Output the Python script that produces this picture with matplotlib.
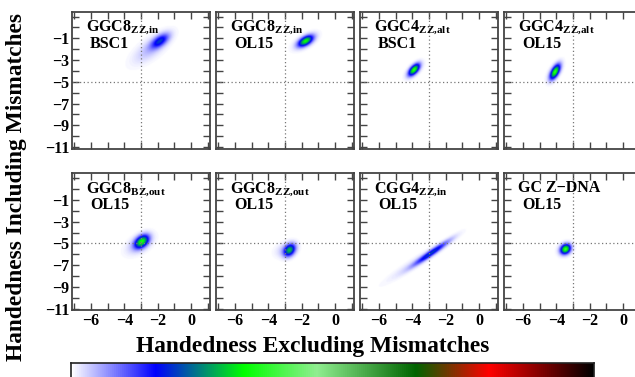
import numpy as np
import matplotlib
matplotlib.use("Agg")
import matplotlib.pyplot as plt
from matplotlib.colors import LinearSegmentedColormap
from matplotlib.ticker import MultipleLocator, FixedLocator

plt.rcParams['font.family'] = ['Liberation Serif', 'DejaVu Serif']
plt.rcParams['font.weight'] = 'bold'
plt.rcParams['mathtext.fontset'] = 'custom'
plt.rcParams['mathtext.rm'] = 'Liberation Serif:bold'
plt.rcParams['mathtext.it'] = 'Liberation Serif:bold'
plt.rcParams['mathtext.bf'] = 'Liberation Serif:bold'

# ---- data ----
system_names = ["GGC8$_{ZZ{,}in}$", "GGC8$_{ZZ{,}in}$", "GGC4$_{ZZ{,}alt}$", "GGC4$_{ZZ{,}alt}$",
                "GGC8$_{BZ{,}out}$", "GGC8$_{ZZ{,}out}$", "CGG4$_{ZZ{,}in}$", "GC Z\u2212DNA"]
force_fields = ["BSC1", "OL15", "BSC1", "OL15", "OL15", "OL15", "OL15", "OL15"]

# core density component per panel
core_x = [-1.85, -1.75, -3.90, -4.08, -2.95, -2.72, -2.85, -3.45]
core_y = [-1.20, -1.20, -3.85, -4.05, -4.85, -5.65, -5.90, -5.55]
core_sx = [0.36, 0.30, 0.22, 0.20, 0.28, 0.23, 0.70, 0.20]
core_sy = [0.45, 0.34, 0.36, 0.45, 0.40, 0.38, 0.75, 0.30]
core_rho = [0.60, 0.55, 0.60, 0.60, 0.40, 0.30, 0.96, 0.20]
core_level = [0.17, 0.30, 0.34, 0.34, 0.31, 0.26, 0.18, 0.35]

# broad halo component per panel
halo_x = [-2.40, -1.80, -3.90, -4.10, -3.10, -2.95, -3.60, -3.45]
halo_y = [-1.90, -1.25, -3.90, -4.00, -5.10, -5.60, -6.60, -5.55]
halo_sx = [0.70, 0.45, 0.32, 0.30, 0.50, 0.40, 1.20, 0.30]
halo_sy = [0.90, 0.50, 0.45, 0.55, 0.60, 0.45, 1.20, 0.40]
halo_rho = [0.70, 0.60, 0.60, 0.60, 0.50, 0.30, 0.96, 0.20]
halo_level = [0.045, 0.04, 0.03, 0.03, 0.05, 0.04, 0.03, 0.03]

x_ticklabels = [-6, -4, -2, 0]
y_ticklabels = [-1, -3, -5, -7, -9, -11]
ref_x = -3
ref_y = -5

cmap_colors = ["#ffffff", "#0000ff", "#00ff00", "#90ee90", "#006400", "#ff0000", "#800000", "#000000"]
cmap_stops = [0.0, 0.16, 0.33, 0.47, 0.66, 0.80, 0.90, 1.0]

cmap = LinearSegmentedColormap.from_list("hand", list(zip(cmap_stops, cmap_colors)))

W, H = 635, 377
fig = plt.figure(figsize=(W / 100, H / 100), dpi=100)

xlim = (-7.15, 1.15)
ylim = (-11.15, 1.45)
gx = np.linspace(xlim[0], xlim[1], 300)
gy = np.linspace(ylim[0], ylim[1], 300)
GX, GY = np.meshgrid(gx, gy)


def gauss(cx, cy, sx, sy, rho, amp):
    dx = (GX - cx) / sx
    dy = (GY - cy) / sy
    q = (dx ** 2 - 2 * rho * dx * dy + dy ** 2) / (1 - rho ** 2)
    return amp * np.exp(-0.5 * q)


lefts = [72, 216, 360, 504]
tops = [11.7, 173.3]
pw, ph = 138, 137

frame_col = "#444444"
for i in range(8):
    r, c = divmod(i, 4)
    l = lefts[c] / W
    b = 1 - (tops[r] + ph) / H
    ax = fig.add_axes([l, b, pw / W, ph / H])
    Z = gauss(core_x[i], core_y[i], core_sx[i], core_sy[i], core_rho[i], core_level[i]) + \
        gauss(halo_x[i], halo_y[i], halo_sx[i], halo_sy[i], halo_rho[i], halo_level[i])
    ax.imshow(Z, origin="lower", extent=[xlim[0], xlim[1], ylim[0], ylim[1]],
              cmap=cmap, vmin=0, vmax=1, aspect="auto", interpolation="bilinear")
    ax.set_xlim(*xlim)
    ax.set_ylim(*ylim)
    ax.axvline(ref_x, color="#777777", lw=0.9, ls=(0, (1, 2)))
    ax.axhline(ref_y, color="#777777", lw=0.9, ls=(0, (1, 2)))
    ax.xaxis.set_major_locator(FixedLocator(x_ticklabels))
    ax.xaxis.set_minor_locator(MultipleLocator(1))
    ax.yaxis.set_major_locator(FixedLocator(y_ticklabels))
    ax.yaxis.set_minor_locator(MultipleLocator(1))
    ax.tick_params(which="both", direction="in", top=True, right=True, length=5,
                   width=1, color=frame_col, labelsize=11.5, pad=2)
    for s in ax.spines.values():
        s.set_color(frame_col)
        s.set_linewidth(1.3)
    if r == 0:
        ax.tick_params(labelbottom=False)
    if c != 0:
        ax.tick_params(labelleft=False)
    ax.text(14 / pw, 1 - 19 / ph, system_names[i], transform=ax.transAxes,
            fontsize=11.5, fontweight="bold", va="baseline", ha="left")
    ax.text(18 / pw, 1 - 36 / ph, force_fields[i], transform=ax.transAxes,
            fontsize=11.5, fontweight="bold", va="baseline", ha="left")

fig.text(313 / W, 1 - 352 / H, "Handedness Excluding Mismatches", ha="center",
         va="baseline", fontsize=16.8, fontweight="bold")
fig.text(17 / W, 1 - 187 / H, "Handedness Including Mismatches", ha="center",
         va="center", rotation=90, fontsize=16.8, fontweight="bold")

cax = fig.add_axes([71 / W, 1 - 392 / H, (594 - 71) / W, 29 / H])
grad = np.linspace(0, 1, 512)[None, :]
cax.imshow(grad, cmap=cmap, aspect="auto", extent=[0, 1, 0, 1], interpolation="bilinear")
cax.set_xticks([])
cax.set_yticks([])
for s in cax.spines.values():
    s.set_color("#222222")
    s.set_linewidth(1.2)

fig.savefig("out.png", dpi=100)
